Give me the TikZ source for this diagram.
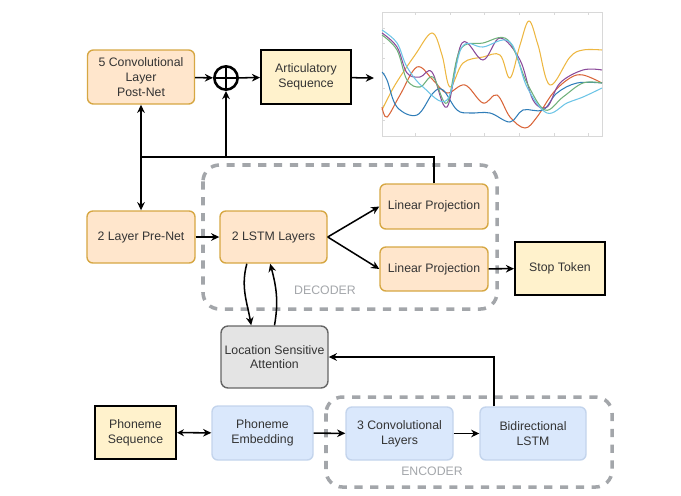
\documentclass[tikz,border=0pt]{standalone}
\usepackage{fontspec}
\setmainfont{Liberation Sans}
\usepackage{xcolor}
\usetikzlibrary{arrows.meta}
\definecolor{txt}{HTML}{333333}
\definecolor{orfill}{HTML}{FFE6CC}
\definecolor{orline}{HTML}{D6A743}
\definecolor{yefill}{HTML}{FFF2CC}
\definecolor{blfill}{HTML}{DAE8FC}
\definecolor{blline}{HTML}{C3D4EC}
\definecolor{grfill}{HTML}{E4E4E4}
\definecolor{grline}{HTML}{666666}
\definecolor{grp}{HTML}{A3A6AA}
\definecolor{axc}{HTML}{D8D8D8}
\definecolor{cblue}{HTML}{2F7DB8}
\definecolor{cred}{HTML}{D9663A}
\definecolor{cyel}{HTML}{EDB742}
\definecolor{cpur}{HTML}{8A4A9A}
\definecolor{cgrn}{HTML}{6FB07A}
\definecolor{ccya}{HTML}{6CC4E6}
\tikzset{
  box/.style={rectangle, align=center, text=txt, font=\fontsize{10.5}{12.5}\selectfont, inner sep=2pt},
  proc/.style={box, fill=orfill, draw=orline, line width=1.2pt, rounded corners=5pt},
  io/.style={box, fill=yefill, draw=black, line width=1.6pt},
  enc/.style={box, fill=blfill, draw=blline, line width=1.2pt, rounded corners=5pt},
  att/.style={box, fill=grfill, draw=grline, line width=1.2pt, rounded corners=6pt},
  grpbox/.style={draw=grp, line width=3pt, dash pattern=on 7pt off 6.5pt, rounded corners=14pt},
  grplab/.style={text=grp, font=\fontsize{10.5}{12}\selectfont},
  arr/.style={draw=black, line width=1.3pt, -{Stealth[length=7pt,width=6.5pt]}},
  dbl/.style={draw=black, line width=1.3pt, {Stealth[length=6pt,width=6pt]}-{Stealth[length=7pt,width=6.5pt]}},
  wire/.style={draw=black, line width=1.3pt},
  curve/.style={line width=0.9pt, smooth, tension=0.6},
}
\begin{document}
\begin{tikzpicture}[x=0.03cm, y=-0.03cm]
  \useasboundingbox (0,0) rectangle (681,495);
  % groups
  \draw[grpbox] (203,165) rectangle (497,309);
  \draw[grpbox] (326,397) rectangle (612,487);
  \node[grplab] (declab) at (325,290) {DECODER};
  \node[grplab] (enclab) at (432,471) {ENCODER};
  % top row
  \node[proc, minimum width=3.21cm, minimum height=1.62cm] (postnet) at (141,77) {5 Convolutional\\Layer\\Post-Net};
  \node[circle, draw=black, line width=2.2pt, minimum size=0.7cm, inner sep=0pt] (plus) at (226,78) {};
  \draw[black, line width=2.2pt] (plus.north) -- (plus.south) (plus.west) -- (plus.east);
  \node[io, minimum width=2.7cm, minimum height=1.62cm] (artseq) at (306,77) {Articulatory\\Sequence};
  \coordinate (plotin) at (374,78);
  % decoder
  \node[proc, minimum width=3.24cm, minimum height=1.56cm] (prenet) at (141,237) {2 Layer Pre-Net};
  \node[proc, minimum width=3.21cm, minimum height=1.56cm] (lstm) at (273.5,237) {2 LSTM Layers};
  \node[proc, minimum width=3.24cm, minimum height=1.35cm] (lin1) at (434,206.5) {Linear Projection};
  \node[proc, minimum width=3.24cm, minimum height=1.32cm] (lin2) at (434,269) {Linear Projection};
  \node[io, minimum width=2.7cm, minimum height=1.59cm] (stop) at (560,268.5) {Stop Token};
  \node[att, minimum width=3.21cm, minimum height=1.86cm] (attn) at (274.5,357) {Location Sensitive\\Attention};
  % encoder
  \node[io, minimum width=2.43cm, minimum height=1.59cm] (phseq) at (135.5,432.5) {Phoneme\\Sequence};
  \node[enc, minimum width=3.03cm, minimum height=1.62cm] (phemb) at (262.5,433) {Phoneme\\Embedding};
  \node[enc, minimum width=3.21cm, minimum height=1.59cm] (conv3) at (399.5,433.5) {3 Convolutional\\Layers};
  \node[enc, minimum width=3.18cm, minimum height=1.59cm] (bilstm) at (533,433.5) {Bidirectional\\LSTM};
  % connections
  \draw[arr] (postnet) -- (plus);
  \draw[arr] (plus) -- (artseq);
  \draw[arr] (artseq) -- (plotin);
  \draw[arr] (prenet) -- (lstm);
  \draw[arr] (lstm.east) -- (lin1.west);
  \draw[arr] (lstm.east) -- (lin2.west);
  \draw[arr] (lin2) -- (stop);
  \coordinate (fb) at (141,157);
  \draw[wire] (lin1.north) |- (fb);
  \draw[arr] (fb) -- (postnet.south);
  \draw[arr] (fb) -- (prenet.north);
  \draw[arr] (plus |- fb) -- (plus.south);
  \draw[arr] ([xshift=-0.8cm]lstm.south) to[out=-105,in=100] ([xshift=-0.7cm]attn.north);
  \draw[arr] (attn.north) to[out=80,in=-75] ([xshift=-0.1cm]lstm.south);
  \draw[arr] ([xshift=-1.17cm]bilstm.north) |- (attn.east);
  \draw[dbl] (phseq) -- (phemb);
  \draw[arr] (phemb) -- (conv3);
  \draw[arr] (conv3) -- (bilstm);
  % articulatory trajectories
  \draw[axc, line width=0.6pt] (382,12) rectangle (602,136);
  \foreach \t in {415,450,484,519,554,588} {
    \draw[axc, line width=0.6pt] (\t,136) -- (\t,133);
    \draw[axc, line width=0.6pt] (\t,12) -- (\t,15);
  }
  \foreach \t in {28,43,58,73,88,105,120} \draw[axc, line width=0.6pt] (382,\t) -- (385,\t);
  \draw[curve, cyel] plot coordinates {(382,110) (395,85) (415,55) (432,33) (442,55) (450,87) (463,63) (483,57) (500,55) (510,78) (520,45) (529,21) (538,45) (550,85) (570,57) (583,50) (602,50)};
  \draw[curve, cred] plot coordinates {(382,107) (387,117) (400,95) (417,67) (433,80) (447,93) (465,85) (483,103) (497,95) (510,117) (525,128) (537,117) (553,93) (570,78) (583,75) (602,83)};
  \draw[curve, cblue] plot coordinates {(382,72) (387,80) (397,107) (417,115) (433,93) (443,90) (457,110) (470,113) (490,113) (510,122) (523,110) (543,110) (557,93) (577,83) (602,83)};
  \draw[curve, cpur] plot coordinates {(382,33) (397,47) (407,73) (420,77) (432,72) (447,107) (462,43) (483,60) (500,38) (520,60) (533,100) (547,107) (560,83) (583,70) (602,70)};
  \draw[curve, cgrn] plot coordinates {(382,35) (397,50) (407,80) (420,87) (433,77) (447,103) (460,50) (483,43) (508,40) (527,83) (545,110) (563,97) (583,83) (602,83)};
  \draw[curve, ccya] plot coordinates {(382,30) (397,43) (407,67) (423,87) (447,100) (462,47) (483,47) (510,42) (527,87) (547,113) (567,103) (583,97) (602,88)};
\end{tikzpicture}
\end{document}
